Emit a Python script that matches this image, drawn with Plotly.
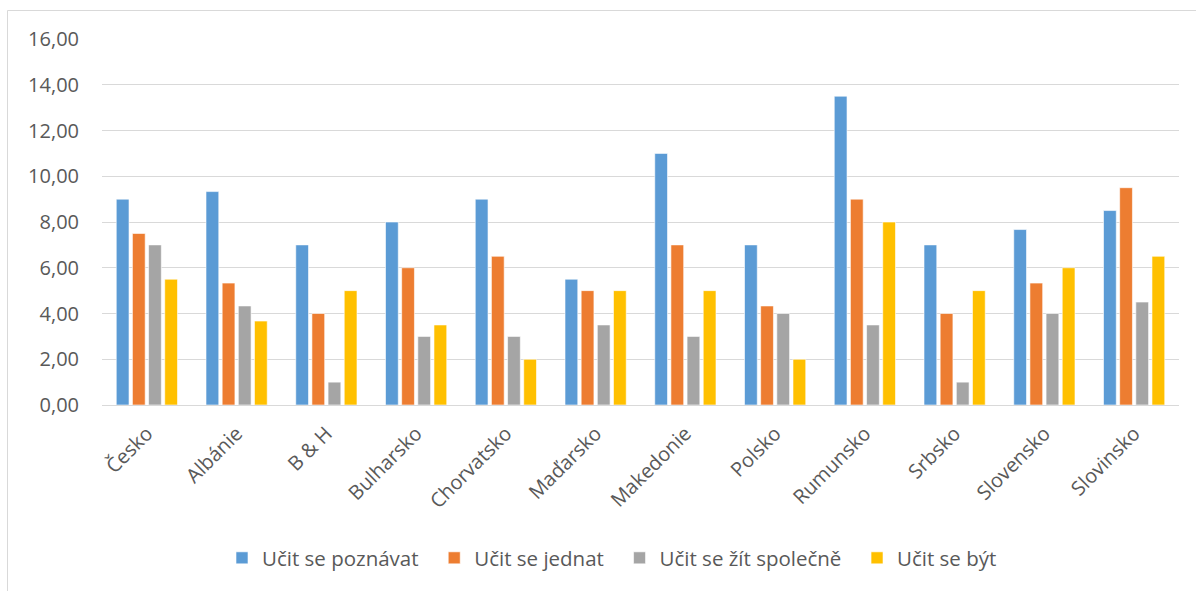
import plotly.graph_objects as go

categories = ["Česko", "Albánie", "B & H", "Bulharsko", "Chorvatsko", "Maďarsko",
              "Makedonie", "Polsko", "Rumunsko", "Srbsko", "Slovensko", "Slovinsko"]
poznavat = [9.0, 9.33, 7.0, 8.0, 9.0, 5.5, 11.0, 7.0, 13.5, 7.0, 7.67, 8.5]
jednat = [7.5, 5.33, 4.0, 6.0, 6.5, 5.0, 7.0, 4.33, 9.0, 4.0, 5.33, 9.5]
zit_spolecne = [7.0, 4.33, 1.0, 3.0, 3.0, 3.5, 3.0, 4.0, 3.5, 1.0, 4.0, 4.5]
byt = [5.5, 3.67, 5.0, 3.5, 2.0, 5.0, 5.0, 2.0, 8.0, 5.0, 6.0, 6.5]

series_names = ["Učit se poznávat", "Učit se jednat", "Učit se žít společně", "Učit se být"]
series_values = [poznavat, jednat, zit_spolecne, byt]
series_colors = ["#5B9BD5", "#ED7D31", "#A5A5A5", "#FFC000"]

FONT = "Open Sans"
TXT = "#595959"
PAD = "\u00a0\u00a0"

fig = go.Figure()
for i, (name, vals, col) in enumerate(zip(series_names, series_values, series_colors)):
    fig.add_trace(go.Bar(
        x=categories, y=vals, name=name + (PAD if i < len(series_names) - 1 else ""),
        marker=dict(color=col, line=dict(color="white", width=0.6)),
    ))

W, H = 1196, 591
L, R, T, B = 102, 17, 39, 186
pw, ph = W - L - R, H - T - B

def px_x(p):
    return (p - L) / pw

def px_y(p):
    return (H - B - p) / ph

fig.update_layout(
    width=W, height=H,
    margin=dict(l=L, r=R, t=T, b=B),
    paper_bgcolor="white", plot_bgcolor="white",
    separators=", ",
    barmode="group", bargap=0.28, bargroupgap=0.21,
    font=dict(family=FONT, color=TXT, size=20),
    showlegend=True,
    legend=dict(orientation="h", x=px_x(612), xanchor="center",
                y=px_y(558), yanchor="middle",
                font=dict(family=FONT, size=20.5, color=TXT),
                itemwidth=30, traceorder="normal"),
    shapes=[dict(type="rect", xref="paper", yref="paper",
                 x0=px_x(7.5), x1=px_x(1210), y0=px_y(610), y1=px_y(10.5),
                 line=dict(color="#D9D9D9", width=1), fillcolor="rgba(0,0,0,0)",
                 layer="below")],
)
fig.update_yaxes(range=[0, 16], dtick=2, tickformat=".2f",
                 showgrid=True, gridcolor="#D9D9D9", gridwidth=1,
                 zeroline=True, zerolinecolor="#D9D9D9", zerolinewidth=1,
                 showline=False, ticks="", ticklabelstandoff=22,
                 tickfont=dict(family=FONT, size=20, color=TXT), fixedrange=True)
fig.update_xaxes(tickangle=-45, showgrid=False, showline=False, ticks="",
                 ticklabelstandoff=12,
                 tickfont=dict(family=FONT, size=20, color=TXT), fixedrange=True)

fig.write_html("out.html")
